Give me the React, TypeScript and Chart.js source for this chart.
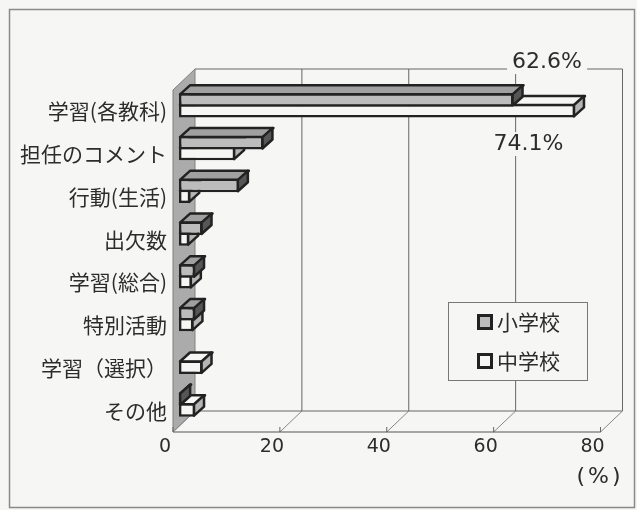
import React, { useEffect, useRef } from "react";
import { Chart, registerables } from "chart.js";

Chart.register(...registerables);

const categories = ["学習(各教科)", "担任のコメント", "行動(生活)", "出欠数", "学習(総合)", "特別活動", "学習（選択）", "その他"];
const elementary = [62.6, 15.8, 11.2, 4.4, 3.0, 3.0, 0, 0.4];
const juniorHigh = [74.1, 10.5, 2.1, 1.9, 2.4, 2.7, 4.4, 3.0];
const seriesNames = ["小学校", "中学校"];
const xTicks = [0, 20, 40, 60, 80];

const JP = '"Noto Sans CJK JP", "Noto Sans", sans-serif';
const INK = "#2c2c2c";
const PAPER = "#f6f6f4";

const wallDx = 22;
const wallDy = 21;
const barDx = 6;
const barDy = 6;
const depthDx = 10;
const depthDy = 9;
const STROKE = "#222222";

const poly = (ctx: CanvasRenderingContext2D, pts: number[][], fill: string | null, stroke: string | null, lw = 1) => {
  ctx.beginPath();
  pts.forEach((p, i) => (i ? ctx.lineTo(p[0], p[1]) : ctx.moveTo(p[0], p[1])));
  ctx.closePath();
  if (fill) {
    ctx.fillStyle = fill;
    ctx.fill();
  }
  if (stroke) {
    ctx.strokeStyle = stroke;
    ctx.lineWidth = lw;
    ctx.lineJoin = "round";
    ctx.stroke();
  }
};

const line = (ctx: CanvasRenderingContext2D, x1: number, y1: number, x2: number, y2: number, color: string, lw = 1) => {
  ctx.beginPath();
  ctx.moveTo(x1, y1);
  ctx.lineTo(x2, y2);
  ctx.strokeStyle = color;
  ctx.lineWidth = lw;
  ctx.stroke();
};

const depthPlugin = {
  id: "depth3d",
  beforeDatasetsDraw(chart: any) {
    const { ctx, chartArea: a, scales } = chart;
    const x0 = a.left;
    const top = a.top;
    const bot = a.bottom;
    ctx.save();
    poly(ctx, [[x0, top], [x0 + wallDx, top - wallDy], [x0 + wallDx, bot - wallDy], [x0, bot]], "#ababab", "#808080");
    xTicks.forEach((t) => {
      const x = scales.x.getPixelForValue(t);
      if (t > 0) line(ctx, x + wallDx, top - wallDy, x + wallDx, bot - wallDy, "#666");
      line(ctx, x, bot, x + wallDx, bot - wallDy, "#888");
      line(ctx, x, bot - 5, x, bot, "#666");
    });
    const xr = scales.x.getPixelForValue(80);
    line(ctx, x0 + wallDx, top - wallDy, xr + wallDx, top - wallDy, "#666");
    line(ctx, x0 + wallDx, bot - wallDy, xr + wallDx, bot - wallDy, "#666");
    line(ctx, x0, bot, xr, bot, "#555");
    ctx.restore();

    ctx.save();
    ctx.translate(barDx, -barDy);
    const faces = [
      { i: 1, topC: PAPER, sideC: "#b5b5b5" },
      { i: 0, topC: "#a0a0a0", sideC: "#565656" },
    ];
    faces.forEach(({ i, topC, sideC }) => {
      chart.getDatasetMeta(i).data.forEach((bar: any) => {
        if (Math.abs(bar.x - bar.base) < 0.5) return;
        const yT = bar.y - bar.height / 2 + 1;
        const yB = bar.y + bar.height / 2 - 1;
        poly(ctx, [[bar.base + 1, yT], [bar.base + 1 + depthDx, yT - depthDy], [bar.x + depthDx, yT - depthDy], [bar.x, yT]], topC, STROKE, 2.5);
        poly(ctx, [[bar.x - 1, yT], [bar.x - 1 + depthDx, yT - depthDy], [bar.x - 1 + depthDx, yB - depthDy], [bar.x - 1, yB]], sideC, STROKE, 2.5);
      });
    });
    // the translation stays active while the front faces are drawn
  },
  afterDatasetsDraw(chart: any) {
    chart.ctx.restore();
  },
};

const overlayPlugin = {
  id: "overlay",
  beforeDraw(chart: any) {
    const { ctx, width, height } = chart;
    ctx.save();
    ctx.fillStyle = PAPER;
    ctx.fillRect(0, 0, width, height);
    ctx.strokeStyle = "#8a8a8a";
    ctx.lineWidth = 1.5;
    ctx.strokeRect(9.5, 9.5, 625, 498);
    ctx.restore();
  },
  afterDraw(chart: any) {
    const { ctx, scales } = chart;
    ctx.save();
    const callout = (text: string, cx: number, cy: number, w: number) => {
      ctx.fillStyle = PAPER;
      ctx.fillRect(cx - w / 2, cy - 12, w, 24);
      ctx.fillStyle = INK;
      ctx.font = "22px 'DejaVu Sans'";
      ctx.textAlign = "center";
      ctx.textBaseline = "middle";
      ctx.fillText(text, cx, cy);
    };
    callout(elementary[0].toFixed(1) + "%", scales.x.getPixelForValue(70), 62, 80);
    callout(juniorHigh[0].toFixed(1) + "%", scales.x.getPixelForValue(66.5), 144, 80);

    ctx.fillStyle = INK;
    ctx.font = "22px 'DejaVu Sans'";
    ctx.textAlign = "center";
    ctx.textBaseline = "middle";
    (ctx as any).letterSpacing = "3px";
    ctx.fillText("(%)", 600, 477);
    (ctx as any).letterSpacing = "0px";

    ctx.fillStyle = PAPER;
    ctx.fillRect(448.5, 302.5, 139, 78);
    ctx.strokeStyle = "#777";
    ctx.lineWidth = 1;
    ctx.strokeRect(448.5, 302.5, 139, 78);
    chart.data.datasets.forEach((ds: any, i: number) => {
      const cy = 322 + i * 39;
      ctx.fillStyle = ds.backgroundColor;
      ctx.strokeStyle = STROKE;
      ctx.lineWidth = 3;
      ctx.fillRect(478.5, cy - 6.5, 13, 13);
      ctx.strokeRect(478.5, cy - 6.5, 13, 13);
      ctx.fillStyle = INK;
      ctx.font = `21px ${JP}`;
      ctx.textAlign = "left";
      ctx.textBaseline = "middle";
      ctx.fillText(ds.label, 497, cy);
    });
    ctx.restore();
  },
};

export default function App() {
  const ref = useRef<HTMLCanvasElement | null>(null);
  useEffect(() => {
    document.body.style.margin = "0";
    const chart = new Chart(ref.current as HTMLCanvasElement, {
      type: "bar",
      data: {
        labels: categories,
        datasets: [
          { label: seriesNames[0], data: elementary, backgroundColor: "#bcbcbc", borderColor: STROKE, borderWidth: 2.5, borderSkipped: false, barPercentage: 1.25, categoryPercentage: 0.5 },
          { label: seriesNames[1], data: juniorHigh, backgroundColor: PAPER, borderColor: STROKE, borderWidth: 2.5, borderSkipped: false, barPercentage: 1.25, categoryPercentage: 0.5 },
        ],
      },
      options: {
        indexAxis: "y",
        responsive: false,
        animation: false,
        layout: { padding: { left: 0, right: 36.5, top: 90, bottom: 0 } },
        plugins: { legend: { display: false }, tooltip: { enabled: false } },
        scales: {
          x: {
            min: 0,
            max: 80,
            afterFit: (s: any) => { s.height = 78; },
            afterBuildTicks: (s: any) => { s.ticks = xTicks.map((value) => ({ value })); },
            grid: { display: false, drawTicks: false },
            border: { display: false },
            ticks: { color: INK, font: { family: "'DejaVu Sans'", size: 19 }, padding: 4, maxRotation: 0, labelOffset: -8 },
          },
          y: {
            afterFit: (s: any) => { s.width = 173; },
            grid: { display: false, drawTicks: false },
            border: { display: false },
            ticks: { color: INK, font: { family: JP, size: 21 }, padding: 6, autoSkip: false },
          },
        },
      },
      plugins: [overlayPlugin, depthPlugin],
    } as any);
    return () => chart.destroy();
  }, []);
  return <canvas ref={ref} width={637} height={510} style={{ display: "block" }} />;
}
